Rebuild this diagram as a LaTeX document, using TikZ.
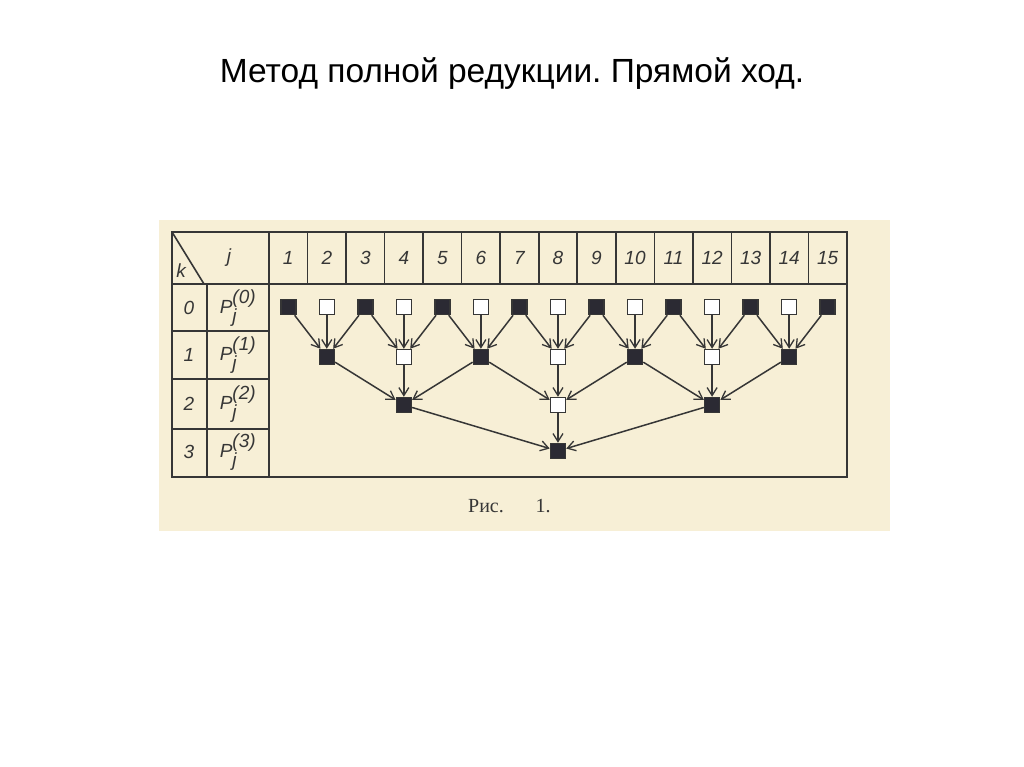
\documentclass[tikz,border=0pt]{standalone}
\usepackage{fontspec}
\setmainfont{Liberation Sans}
\newfontfamily\serifcyr{Liberation Serif}
\usetikzlibrary{arrows.meta}
\definecolor{paper}{HTML}{F7EFD6}
\definecolor{ink}{HTML}{363636}
\definecolor{blk}{HTML}{2B2A33}
\tikzset{
  grid/.style={draw=ink, line width=1.6pt},
  sq/.style={draw=ink, line width=1.5pt, minimum size=15pt, inner sep=0pt, fill=white},
  sqf/.style={sq, fill=blk},
  lbl/.style={text=ink, font=\fontsize{19}{22}\selectfont\itshape, inner sep=0pt},
  arr/.style={draw=ink, line width=1.5pt, -{Straight Barb[length=8pt,width=10pt,line width=1.3pt]}},
}
\frenchspacing
\begin{document}
\begin{tikzpicture}[x=1pt,y=-1pt]
\useasboundingbox (0,0) rectangle (1024,767);
\fill[white] (0,0) rectangle (1024,767);
\fill[paper] (159,220) rectangle (890,531);
\node[font=\fontsize{33.5}{38}\selectfont, text=black, inner sep=0pt] (title) at (512,74) {Метод полной редукции. Прямой ход.};
% table
\draw[grid] (172,232) rectangle (847,477);
\draw[grid] (172,284) -- (847,284);
\draw[grid] (269,232) -- (269,477);
\draw[grid] (207,284) -- (207,477);
\draw[grid] (172,232) -- (204,284);
\foreach \yy in {331,379,429} \draw[grid] (172,\yy) -- (269,\yy);
\foreach \i in {1,...,14} \draw[grid] ({269+38.53*\i},232) -- ({269+38.53*\i},284);
\foreach \j in {1,...,15} \node[lbl] (h\j) at ({269+38.53*(\j-0.5)},258) {\j};
\node[lbl] (kl) at (181,271) {k};
\node[lbl] (jl) at (229,258) {j};
\foreach \k/\yy in {0/308,1/355,2/404,3/452} {
  \node[lbl] (r\k) at (189,\yy) {\k};
  \node[lbl] (p\k) at (238,\yy) {P$_{\textit{j}}^{\textit{(\k)}}$};
}
% squares
\foreach \j in {1,...,15} {
  \pgfmathtruncatemacro{\od}{mod(\j,2)}
  \ifnum\od=1 \node[sqf] (n0-\j) at ({269+38.53*(\j-0.5)},307) {};
  \else \node[sq] (n0-\j) at ({269+38.53*(\j-0.5)},307) {}; \fi
}
\foreach \j/\s in {2/sqf,4/sq,6/sqf,8/sq,10/sqf,12/sq,14/sqf}
  \node[\s] (n1-\j) at ({269+38.53*(\j-0.5)},357) {};
\foreach \j/\s in {4/sqf,8/sq,12/sqf}
  \node[\s] (n2-\j) at ({269+38.53*(\j-0.5)},405) {};
\node[sqf] (n3-8) at ({269+38.53*7.5},451) {};
% arrows
\foreach \j in {2,4,...,14} {
  \pgfmathtruncatemacro{\a}{\j-1}
  \pgfmathtruncatemacro{\b}{\j+1}
  \draw[arr] (n0-\a) -- (n1-\j);
  \draw[arr] (n0-\j) -- (n1-\j);
  \draw[arr] (n0-\b) -- (n1-\j);
}
\foreach \j in {4,8,12} {
  \pgfmathtruncatemacro{\a}{\j-2}
  \pgfmathtruncatemacro{\b}{\j+2}
  \draw[arr] (n1-\a) -- (n2-\j);
  \draw[arr] (n1-\j) -- (n2-\j);
  \draw[arr] (n1-\b) -- (n2-\j);
}
\draw[arr] (n2-4) -- (n3-8);
\draw[arr] (n2-8) -- (n3-8);
\draw[arr] (n2-12) -- (n3-8);
\node[font=\serifcyr\fontsize{20}{22}\selectfont, text=ink, inner sep=0pt] (cap1) at (486,506) {Рис.};
\node[font=\serifcyr\fontsize{20}{22}\selectfont, text=ink, inner sep=0pt] (cap2) at (543,506) {1.};
\end{tikzpicture}
\end{document}
